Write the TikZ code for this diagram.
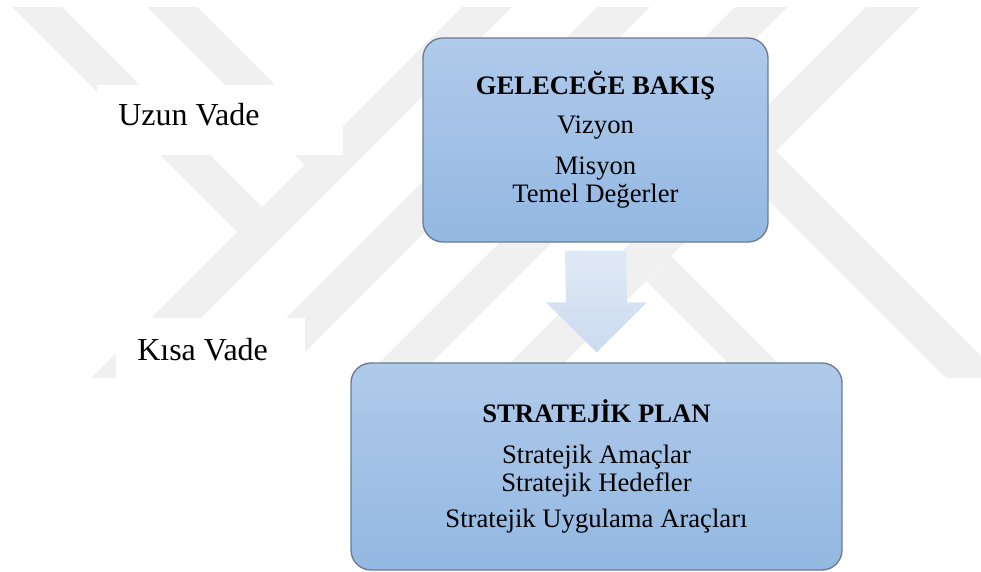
\documentclass[tikz,border=0pt]{standalone}
\usepackage{fontspec}
\setmainfont{Liberation Serif}
\usetikzlibrary{calc}
\usetikzlibrary{positioning}

\definecolor{wmgray}{RGB}{240,240,240}
\definecolor{boxtop}{RGB}{176,202,234}
\definecolor{boxbot}{RGB}{147,184,226}
\definecolor{boxline}{RGB}{108,122,146}
\definecolor{arrtop}{RGB}{224,233,246}
\definecolor{arrbot}{RGB}{204,219,240}

\tikzset{
  planbox/.style={draw=boxline, line width=1pt, rounded corners=15pt,
    top color=boxtop, bottom color=boxbot, align=center, inner sep=0pt,
    font=\fontsize{20}{21}\selectfont},
  vade/.style={font=\fontsize{24}{28}\selectfont, inner sep=0pt},
  wmark/.style={fill=wmgray}
}

\begin{document}
\begin{tikzpicture}[x=0.75pt, y=-0.75pt]
  \useasboundingbox (0,0) rectangle (981,571);
  \fill[white] (0,0) rectangle (981,571);

  % watermark
  \begin{scope}
    \clip (0,0) rectangle (981,571);
    \fill[wmark] (12,7) -- (62,7) -- (262,207) -- (237,232) -- cycle;
    \fill[wmark] (147,7) -- (197,7) -- (329.5,139.5) -- (304.5,164.5) -- cycle;
    \fill[wmark] (462,7) -- (512,7) -- (141,378) -- (91,378) -- cycle;
    \fill[wmark] (597,7) -- (650,7) -- (279,378) -- (226,378) -- cycle;
    \fill[wmark] (735,7) -- (787,7) -- (416,378) -- (364,378) -- cycle;
    \fill[wmark] (866,7) -- (920,7) -- (549,378) -- (495,378) -- cycle;
    \fill[wmark] (671,256) -- (793,378) -- (743,378) -- (646,281) -- cycle;
    \fill[wmark] (776,151) -- (1003,378) -- (946,378) -- (747.5,179.5) -- cycle;
  \end{scope}

  \fill[white] (97,85) rectangle (343,155);
  \fill[white] (116,318) rectangle (305,379);
  \node[vade, anchor=base west] (uzun) at (118,125) {Uzun Vade};
  \node[vade, anchor=base west] (kisa) at (137,360) {Kısa Vade};

  \node[planbox, minimum width=258.75pt, minimum height=153pt] (bakis) at (595.5,140)
    {\textbf{GELECEĞE BAKIŞ}\\[8.25pt] Vizyon\\[9.75pt] Misyon\\ Temel Değerler};
  \node[planbox, minimum width=368.25pt, minimum height=155.25pt] (plan) at (596.5,466.5)
    {\textbf{STRATEJİK PLAN}\\[9.75pt] Stratejik Amaçlar\\ Stratejik Hedefler\\[6pt] Stratejik Uygulama Araçları};

  \coordinate (arrtail) at ($(bakis.south)+(0,8)$);
  \coordinate (arrtip) at ($(plan.north)+(0,-10)$);
  \shade[top color=arrtop, bottom color=arrbot]
    ($(arrtail)+(-30.5,0)$) -- ($(arrtail)+(30.5,0)$) -- ($(arrtip)+(30.5,-50)$)
    -- ($(arrtip)+(50.5,-50)$) -- (arrtip) -- ($(arrtip)+(-50.5,-50)$)
    -- ($(arrtip)+(-30.5,-50)$) -- cycle;
\end{tikzpicture}
\end{document}
